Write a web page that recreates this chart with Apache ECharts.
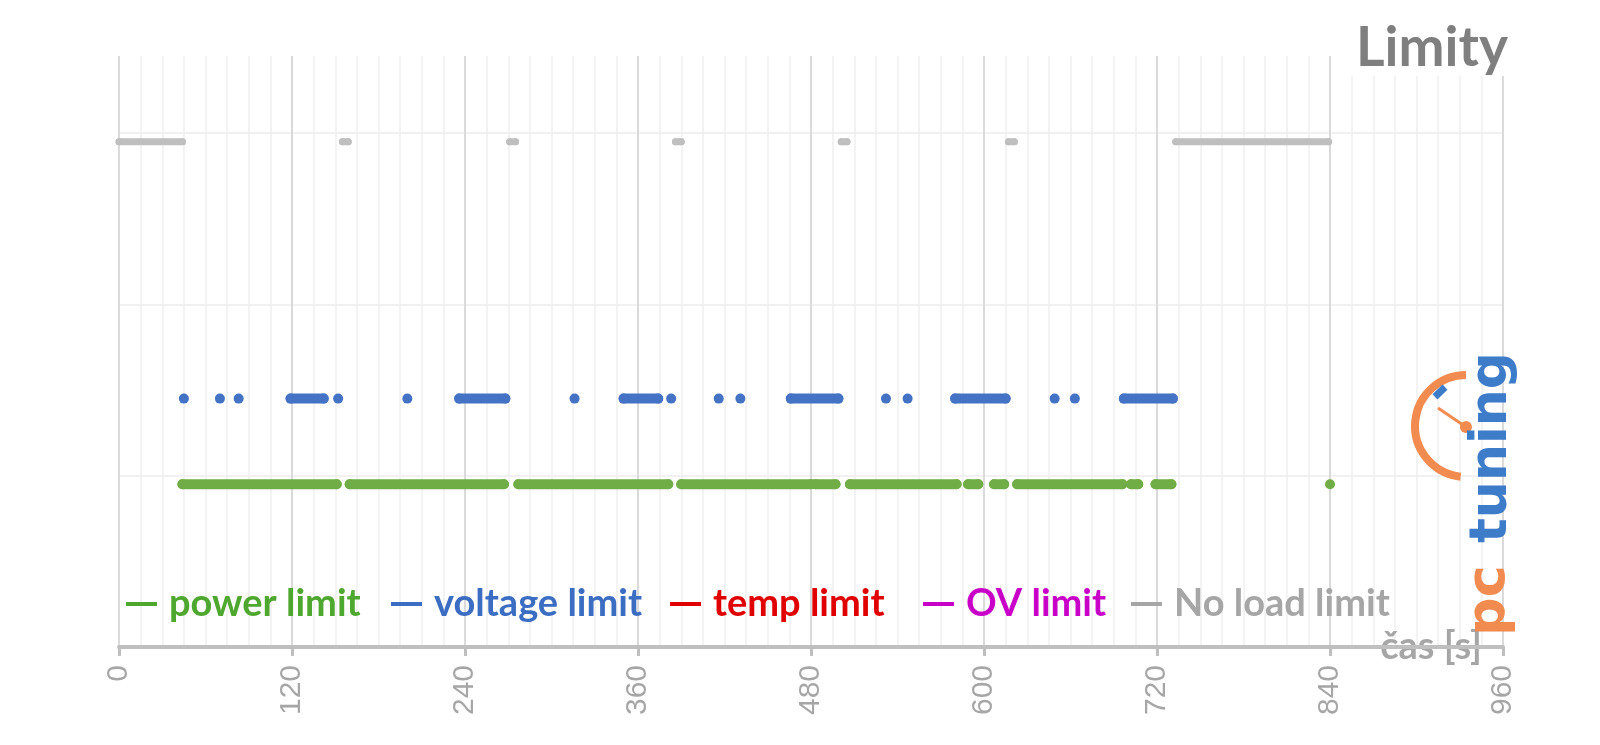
<!DOCTYPE html>
<html>
<head>
<meta charset="utf-8">
<script src="https://cdn.jsdelivr.net/npm/echarts@6/dist/echarts.min.js"></script>
<style>
html,body{margin:0;padding:0;background:#fff;}
#chart{width:1600px;height:745px;}
</style>
</head>
<body>
<div id="chart"></div>
<script>
// ---- data (time in seconds where each limit was active) ----
const xTicks = [0, 120, 240, 360, 480, 600, 720, 840, 960];
const seriesNames = ['power limit', 'voltage limit', 'temp limit', 'OV limit', 'No load limit'];
const powerLevel = 0.95;
const voltageLevel = 1.45;
const noLoadLevel = 2.95;
// [start, end] runs of samples
const powerRuns = [[44,151],[160,267],[277,381],[390,480],[483,497],[507,581],[589,596],[607,614],[623,696],[702,707],[719,730],[840,840]];
const voltageRuns = [[45,45],[70,70],[83,83],[119,142],[152,152],[200,200],[236,268],[316,316],[350,374],[383,383],[416,416],[431,431],[466,499],[532,532],[547,547],[580,615],[649,649],[663,663],[697,731]];
const tempRuns = [];
const ovRuns = [];
const noLoadRuns = [[0,44],[155,159],[271,275],[386,390],[501,505],[617,621],[733,839]];

function runsToData(runs, level) {
  const out = [];
  runs.forEach(function (r, i) {
    if (i > 0) out.push([r[0], '-']);
    out.push([r[0], level]);
    if (r[1] !== r[0]) out.push([r[1], level]);
  });
  return out;
}

const chart = echarts.init(document.getElementById('chart'));

function mkSeries(name, runs, level, color, size) {
  return {
    name: name,
    type: 'line',
    data: runsToData(runs, level),
    symbol: 'circle',
    symbolSize: size,
    showSymbol: true,
    showAllSymbol: true,
    connectNulls: false,
    itemStyle: { color: color },
    lineStyle: { color: color, width: size, cap: 'round' },
    emphasis: { disabled: true },
    silent: true,
    animation: false
  };
}

const legendColors = ['#4ea72e', '#3b6dc2', '#e00000', '#c800c8', '#a6a6a6'];
const legendLefts = [126, 391, 670, 923, 1131];
const orange = '#f28b50';
const logoBlue = '#3d7cc9';

const legends = seriesNames.map(function (n, i) {
  return {
    left: legendLefts[i],
    top: 585,
    icon: 'rect',
    itemWidth: 31,
    itemHeight: 4,
    padding: 0,
    selectedMode: false,
    textStyle: { fontFamily: 'Lato', fontWeight: 'bold', fontSize: 38, padding: [0, 0, 0, 7], color: legendColors[i] },
    data: [{ name: n, itemStyle: { color: legendColors[i] } }]
  };
});

const option = {
  backgroundColor: '#fff',
  animation: false,
  title: {
    text: 'Limity',
    right: 88,
    top: 21,
    padding: [0, 4, 0, 8],
    backgroundColor: '#fff',
    textStyle: { fontFamily: 'Lato', fontWeight: 'bold', fontSize: 55, color: '#7f7f7f' }
  },
  legend: legends,
  grid: { left: 119, right: 97, top: 56, bottom: 98, containLabel: false },
  xAxis: {
    type: 'value',
    min: 0,
    max: 960,
    interval: 120,
    name: 'čas [s]',
    nameLocation: 'end',
    nameGap: -21,
    nameTextStyle: { fontFamily: 'Lato', fontWeight: 'bold', fontSize: 38, color: '#a6a6a6', align: 'right', verticalAlign: 'middle' },
    axisLine: { show: true, lineStyle: { color: '#bfbfbf', width: 4 } },
    axisTick: { show: true, length: 9, lineStyle: { color: '#bfbfbf', width: 3 } },
    axisLabel: { rotate: 90, margin: 18, fontFamily: 'Liberation Sans', fontSize: 30, color: '#a6a6a6' },
    splitLine: { show: true, lineStyle: { color: '#dadada', width: 2 } },
    minorTick: { show: false, splitNumber: 8 },
    minorSplitLine: { show: true, lineStyle: { color: '#f0f0f0', width: 1.5 } }
  },
  yAxis: {
    type: 'value',
    min: 0,
    max: 3.45,
    interval: 1,
    axisLine: { show: false },
    axisTick: { show: false },
    axisLabel: { show: false },
    splitLine: { show: true, lineStyle: { color: ['#ececec', '#ececec', '#ececec', '#ececec', 'rgba(0,0,0,0)'], width: 1.5 } }
  },
  series: [
    mkSeries(seriesNames[4], noLoadRuns, noLoadLevel, '#bfbfbf', 7),
    mkSeries(seriesNames[3], ovRuns, 0, '#c800c8', 10),
    mkSeries(seriesNames[2], tempRuns, 0, '#e00000', 10),
    mkSeries(seriesNames[1], voltageRuns, voltageLevel, '#4472c4', 10),
    mkSeries(seriesNames[0], powerRuns, powerLevel, '#70ad47', 10)
  ],
  graphic: [
    { type: 'arc', z: 100, shape: { cx: 1466, cy: 426, r: 51, startAngle: 96 * Math.PI / 180, endAngle: 270 * Math.PI / 180, clockwise: true },
      style: { stroke: orange, lineWidth: 8, fill: null } },
    { type: 'line', z: 100, shape: { x1: 1466, y1: 427, x2: 1438, y2: 408 }, style: { stroke: orange, lineWidth: 3 } },
    { type: 'circle', z: 100, shape: { cx: 1466, cy: 427, r: 6 }, style: { fill: orange } },
    { type: 'rect', z: 101, x: 1440, y: 392, rotation: -0.8, shape: { x: -3.5, y: -7, width: 7, height: 14 }, style: { fill: logoBlue } },
    { type: 'text', z: 100, x: 1492, y: 543, rotation: Math.PI / 2,
      style: { text: 'tuning', font: 'bold 52px "DejaVu Sans"', fill: logoBlue, align: 'left', verticalAlign: 'middle' } },
    { type: 'text', z: 100, x: 1490, y: 636, rotation: Math.PI / 2,
      style: { text: 'pc', font: 'bold 54px "DejaVu Sans"', fill: orange, align: 'left', verticalAlign: 'middle' } }
  ]
};
chart.setOption(option);
</script>
</body>
</html>
